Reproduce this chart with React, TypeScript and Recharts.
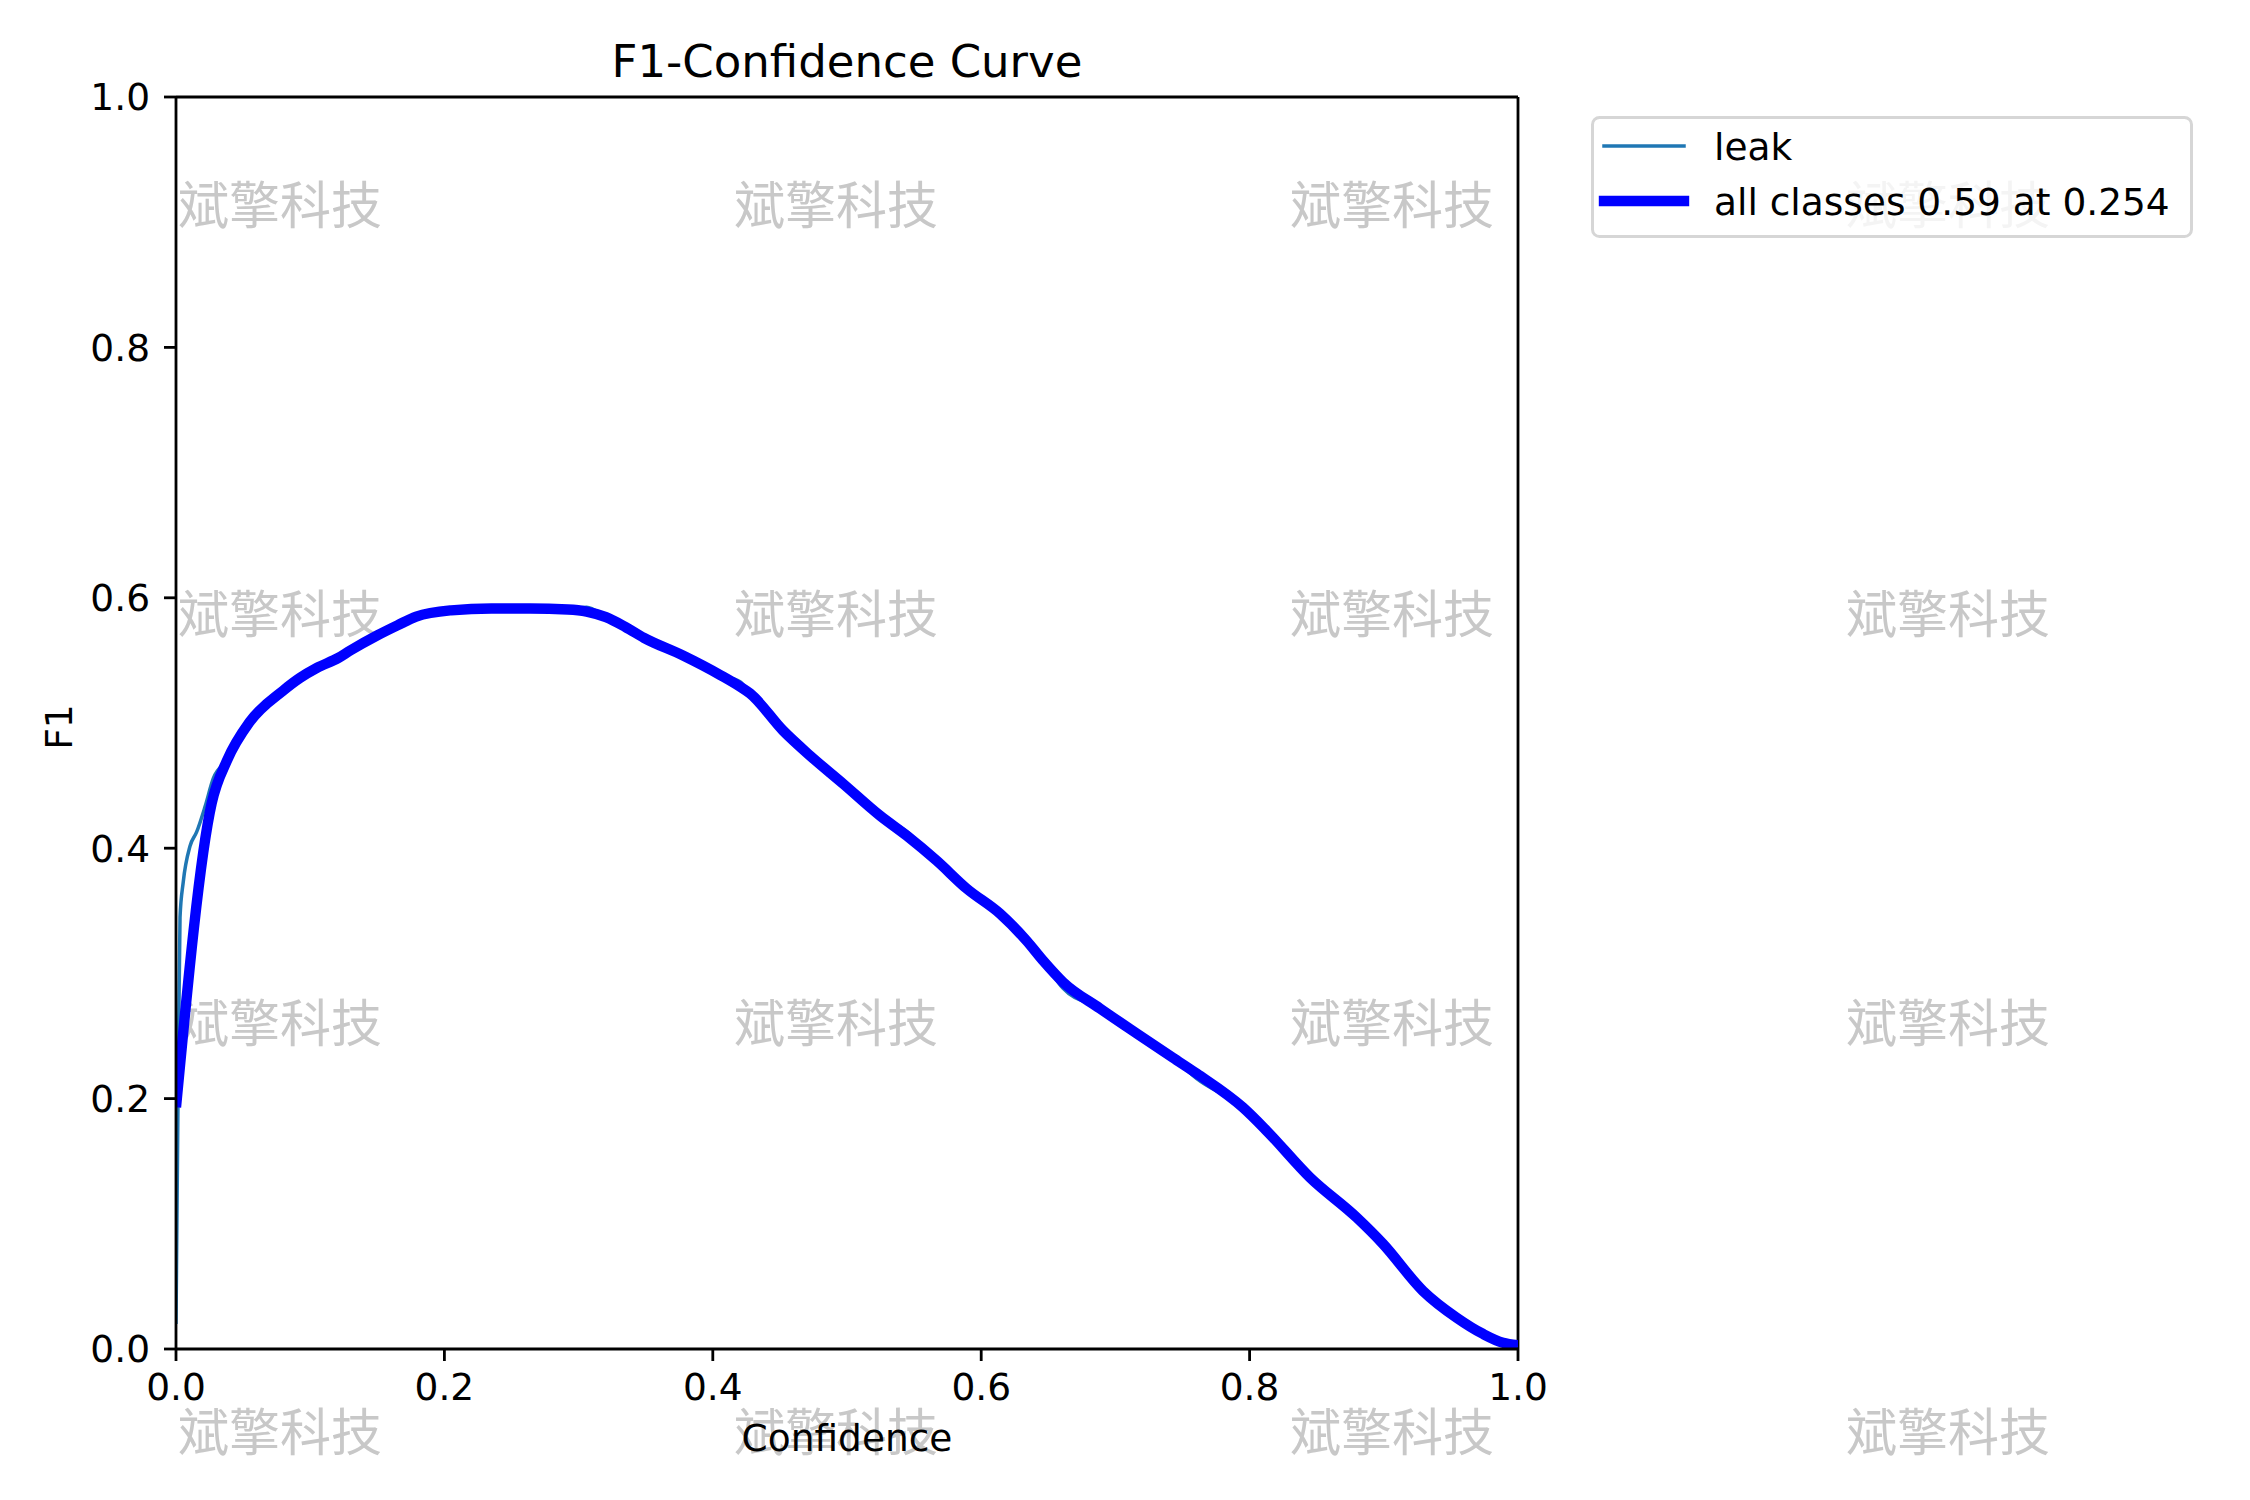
import { Line, LineChart, ReferenceLine, XAxis, YAxis } from "recharts";

// F1 values
const allConf = [
    0, 0.0266, 0.038, 0.055, 0.08, 0.0924, 0.105, 0.121, 0.13, 0.15, 0.165, 0.179, 0.205, 0.235, 0.264, 0.292,
    0.306, 0.3204, 0.335, 0.3487, 0.3776, 0.4061, 0.4203, 0.4277, 0.4523, 0.4724, 0.497, 0.5246, 0.5445, 0.5668,
    0.5892, 0.614, 0.6339, 0.6463, 0.661, 0.6885, 0.7159, 0.7429, 0.7606, 0.795, 0.8127, 0.845, 0.8798, 0.8994,
    0.9292, 0.9543, 0.974, 0.9888, 1.0,
];
const allF1 = [
    0.193, 0.436, 0.47, 0.501, 0.526, 0.536, 0.544, 0.552, 0.558, 0.57, 0.578, 0.585, 0.59, 0.5915, 0.5915, 0.5907,
    0.589, 0.5845, 0.5766, 0.568, 0.554, 0.538, 0.529, 0.5236, 0.494, 0.474, 0.4516, 0.426, 0.41, 0.39, 0.3677,
    0.3477, 0.326, 0.31, 0.293, 0.272, 0.252, 0.2326, 0.22, 0.1929, 0.1743, 0.137, 0.105, 0.084, 0.0464, 0.025,
    0.012, 0.005, 0.003,
];

const leakConf = [
    0, 0.0015, 0.003, 0.0054, 0.0104, 0.0154, 0.0216, 0.0278, 0.038, 0.055, 0.08, 0.0924, 0.105, 0.121, 0.13, 0.15,
    0.165, 0.179, 0.205, 0.235, 0.264, 0.292, 0.306, 0.3204, 0.335, 0.3487, 0.3776, 0.4061, 0.4203, 0.4277, 0.4523,
    0.4724, 0.497, 0.5246, 0.5445, 0.5668, 0.5892, 0.614, 0.6339, 0.6463, 0.661, 0.6885, 0.7159, 0.7429, 0.7606,
    0.795, 0.8127, 0.845, 0.8798, 0.8994, 0.9292, 0.9543, 0.974, 0.9888, 1.0,
];
const leakF1 = [
    0.02, 0.2, 0.345, 0.373, 0.4015, 0.413, 0.433, 0.4557, 0.47, 0.501, 0.526, 0.536, 0.544, 0.552, 0.558, 0.57,
    0.578, 0.585, 0.59, 0.5915, 0.5915, 0.5907, 0.5925, 0.5845, 0.5766, 0.568, 0.554, 0.538, 0.533, 0.5236, 0.494,
    0.474, 0.4516, 0.426, 0.4135, 0.39, 0.3677, 0.3477, 0.326, 0.31, 0.288, 0.272, 0.252, 0.2326, 0.216, 0.1929,
    0.1743, 0.137, 0.105, 0.084, 0.0464, 0.025, 0.012, 0.005, 0.003,
];

const xTicks = [0, 0.2, 0.4, 0.6, 0.8, 1.0];
const yTicks = [0, 0.2, 0.4, 0.6, 0.8, 1.0];

const legendItems = [
    { name: "leak", color: "#1f77b4", width: 3.5 },
    { name: "all classes 0.59 at 0.254", color: "#0000ff", width: 10.4 },
];

const watermark = "斌擎科技";
const markCols = [178, 734, 1290, 1846];
const markRows = [202, 611, 1020, 1429];

const allData = allConf.map((c, i) => ({ conf: c, f1: allF1[i] }));
const leakData = leakConf.map((c, i) => ({ conf: c, f1: leakF1[i] }));

const font = "DejaVu Sans, sans-serif";
const textSize = 37.5;
const tickStyle = { fill: "#000", fontSize: textSize, fontFamily: font };

const App = () => {
    return (
        <div style={{ position: "relative", width: 2250, height: 1500, background: "#fff" }}>
            <style>{"body{margin:0}"}</style>
            <svg width={2250} height={1500} style={{ position: "absolute", left: 0, top: 0 }}>
                {markRows.map((y) =>
                    markCols.map((x) => (
                        <text
                            key={`${x}-${y}`}
                            x={x}
                            y={y}
                            dominantBaseline="central"
                            fontSize={51}
                            fontFamily="Noto Sans CJK SC"
                            fill="#c8c8c8"
                        >
                            {watermark}
                        </text>
                    ))
                )}
                <text x={847} y={77} textAnchor="middle" fontSize={45} fontFamily={font} fill="#000">
                    F1-Confidence Curve
                </text>
                <text x={847} y={1451} textAnchor="middle" fontSize={textSize} fontFamily={font} fill="#000">
                    Confidence
                </text>
                <text
                    transform="translate(72,727) rotate(-90)"
                    textAnchor="middle"
                    fontSize={textSize}
                    fontFamily={font}
                    fill="#000"
                >
                    F1
                </text>
                <rect
                    x={1592.5}
                    y={117.5}
                    width={599}
                    height={119}
                    rx={7}
                    fill="#fff"
                    fillOpacity={0.8}
                    stroke="#d6d6d6"
                    strokeWidth={3}
                />
                {legendItems.map((item, i) => (
                    <g key={item.name}>
                        <line
                            x1={1604}
                            x2={1684}
                            y1={146 + i * 55}
                            y2={146 + i * 55}
                            stroke={item.color}
                            strokeWidth={item.width}
                            strokeLinecap="square"
                        />
                        <text x={1714} y={160 + i * 55} fontSize={textSize} fontFamily={font} fill="#000">
                            {item.name}
                        </text>
                    </g>
                ))}
            </svg>
            <div style={{ position: "absolute", left: 0, top: 0 }}>
                <LineChart width={2250} height={1500} margin={{ top: 97, right: 732, bottom: 91, left: 86 }}>
                    <XAxis
                        type="number"
                        dataKey="conf"
                        domain={[0, 1]}
                        ticks={xTicks}
                        tickFormatter={(v: number) => v.toFixed(1)}
                        allowDataOverflow
                        height={60}
                        tick={tickStyle}
                        tickSize={12}
                        tickMargin={12}
                        axisLine={{ stroke: "#000", strokeWidth: 2.8 }}
                        tickLine={{ stroke: "#000", strokeWidth: 2.8 }}
                    />
                    <YAxis
                        type="number"
                        dataKey="f1"
                        domain={[0, 1]}
                        ticks={yTicks}
                        tickFormatter={(v: number) => v.toFixed(1)}
                        allowDataOverflow
                        width={90}
                        tick={tickStyle}
                        tickSize={12}
                        tickMargin={14}
                        axisLine={{ stroke: "#000", strokeWidth: 2.8 }}
                        tickLine={{ stroke: "#000", strokeWidth: 2.8 }}
                    />
                    <ReferenceLine y={1} stroke="#000" strokeWidth={2.8} />
                    <ReferenceLine x={1} stroke="#000" strokeWidth={2.8} />
                    <Line
                        data={leakData}
                        dataKey="f1"
                        type="monotone"
                        stroke={legendItems[0].color}
                        strokeWidth={legendItems[0].width}
                        dot={false}
                        isAnimationActive={false}
                    />
                    <Line
                        data={allData}
                        dataKey="f1"
                        type="monotone"
                        stroke={legendItems[1].color}
                        strokeWidth={legendItems[1].width}
                        strokeLinejoin="round"
                        dot={false}
                        isAnimationActive={false}
                    />
                </LineChart>
            </div>
        </div>
    );
};

export default App;
